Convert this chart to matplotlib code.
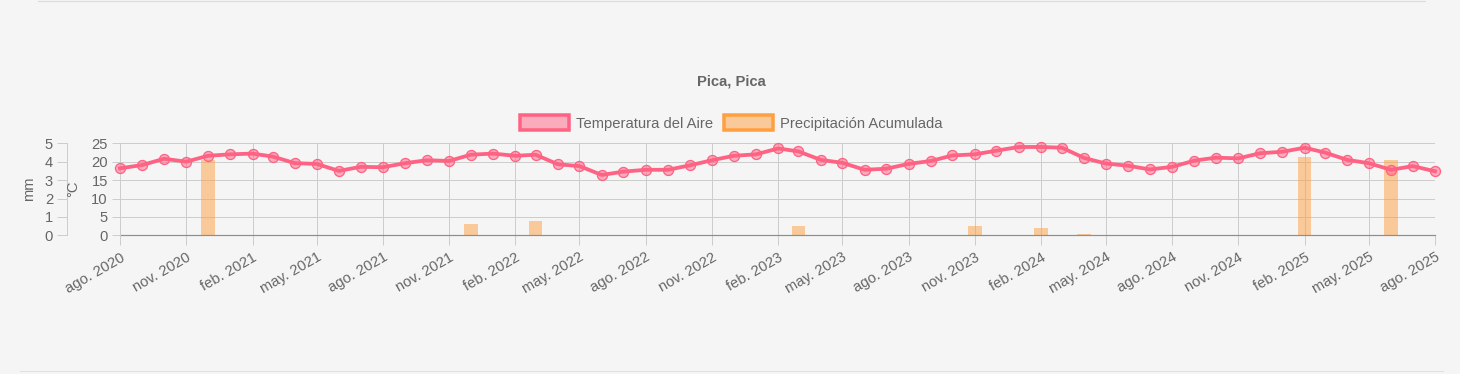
import matplotlib
matplotlib.use("Agg")
import matplotlib.pyplot as plt
from matplotlib.patches import Patch
from matplotlib.lines import Line2D
import pandas as pd

plt.rcParams['font.family'] = ['Liberation Sans', 'DejaVu Sans']

# monthly data, ago. 2020 -> ago. 2025
months = pd.date_range('2020-08-01', '2025-08-01', freq='MS')

temperatura = [
    18.2, 19.1, 20.8, 20.0, 21.6,                                        # 2020
    22.0, 22.2, 21.4, 19.6, 19.4, 17.5, 18.6, 18.5, 19.6, 20.4, 20.2, 21.9,  # 2021
    22.2, 21.6, 21.9, 19.3, 18.8, 16.4, 17.3, 17.8, 17.8, 19.0, 20.4, 21.6,  # 2022
    22.0, 23.6, 22.8, 20.5, 19.7, 17.8, 18.1, 19.4, 20.2, 21.7, 22.0, 23.0,  # 2023
    24.0, 24.0, 23.8, 21.0, 19.5, 18.9, 17.9, 18.6, 20.3, 21.1, 20.9, 22.3,  # 2024
    22.7, 23.8, 22.5, 20.5, 19.6, 17.8, 18.8, 17.4,                      # 2025
]

precipitacion = [
    0, 0, 0, 0, 4.08,
    0, 0, 0, 0, 0, 0, 0, 0, 0, 0, 0, 0.60,
    0, 0, 0.80, 0, 0, 0, 0, 0, 0, 0, 0, 0,
    0, 0, 0.49, 0, 0, 0, 0, 0, 0, 0, 0.49, 0,
    0, 0.40, 0, 0.09, 0, 0, 0, 0, 0, 0, 0, 0,
    0, 4.26, 0, 0, 0, 4.08, 0, 0,
]

tick_labels = ['ago. 2020', 'nov. 2020', 'feb. 2021', 'may. 2021', 'ago. 2021',
               'nov. 2021', 'feb. 2022', 'may. 2022', 'ago. 2022', 'nov. 2022',
               'feb. 2023', 'may. 2023', 'ago. 2023', 'nov. 2023', 'feb. 2024',
               'may. 2024', 'ago. 2024', 'nov. 2024', 'feb. 2025', 'may. 2025',
               'ago. 2025']

W, H = 1460, 374
bg = '#f5f5f5'
grid_c = '#cdcdcd'
txt_c = '#666666'
red = (1, 99 / 255, 132 / 255)
orange = (1, 159 / 255, 64 / 255)
fs = 10.6
px = 0.72  # points per pixel at dpi 100

fig = plt.figure(figsize=(W / 100, H / 100), dpi=100, facecolor=bg)

# bars (mm) on the base axes
ax = fig.add_axes([120 / W, 1 - 235.3 / H, 1315 / W, 92 / H])
ax.set_facecolor(bg)
ax.bar(months, precipitacion, width=19, color=orange + (0.5,), zorder=2)
ax.set_ylim(0, 5)
ax.set_yticks(range(6))
ax.set_xlim(months[0], months[-1])
ax.set_xticks(months[::3])
ax.set_xticklabels(tick_labels, rotation=30, ha='right', va='top',
                   rotation_mode='anchor')
ax.grid(True, color=grid_c, lw=1.0 * px)
ax.set_axisbelow(True)
for s in ['top', 'right']:
    ax.spines[s].set_visible(False)
ax.spines['left'].set_position(('outward', 53 * px))
ax.spines['left'].set_color(grid_c)
ax.spines['left'].set_linewidth(px)
ax.spines['bottom'].set_color('#8e8e8e')
ax.spines['bottom'].set_linewidth(1.2 * px)
ax.tick_params(axis='y', length=10 * px, width=px, color=grid_c,
               labelcolor=txt_c, labelsize=fs, pad=4 * px)
ax.tick_params(axis='x', length=10 * px, width=px, color=grid_c,
               labelcolor=txt_c, labelsize=fs, pad=5 * px)

# temperature line on the twin axes, ticks on the left
ax_t = ax.twinx()
ax_t.yaxis.tick_left()
ax_t.set_ylim(0, 25)
ax_t.set_yticks(range(0, 30, 5))
for s in ['top', 'right', 'bottom']:
    ax_t.spines[s].set_visible(False)
ax_t.spines['left'].set_color(grid_c)
ax_t.spines['left'].set_linewidth(px)
ax_t.tick_params(axis='y', length=8 * px, width=px, color=grid_c,
                 labelcolor=txt_c, labelsize=fs, pad=4 * px)
ax_t.plot(months, temperatura, color=red, lw=3.8 * px, marker='o',
          ms=10 * px, mfc=red + (0.5,), mec=red, mew=1.3 * px,
          clip_on=False, zorder=3)

fig.text(29 / W, 1 - 189 / H, 'mm', rotation=90, ha='center', va='center',
         color=txt_c, fontsize=fs)
fig.text(73 / W, 1 - 189 / H, '°C', rotation=90, ha='center', va='center',
         color=txt_c, fontsize=fs)

fig.text(731 / W, 1 - 81 / H, 'Pica, Pica', ha='center', va='center',
         color=txt_c, fontsize=fs, fontweight='bold')

handles = [Patch(facecolor=red + (0.5,), edgecolor=red, lw=3.5 * px),
           Patch(facecolor=orange + (0.5,), edgecolor=orange, lw=3.5 * px)]
fig.legend(handles, ['Temperatura del Aire', 'Precipitación Acumulada'],
           loc='center', bbox_to_anchor=(731.5 / W, 1 - 123 / H), ncol=2,
           frameon=False, fontsize=fs, labelcolor=txt_c,
           handlelength=3.3, handleheight=1.1, handletextpad=0.5,
           columnspacing=0.75, borderpad=0)

# faint page borders around the chart area
fig.add_artist(Line2D([38 / W, 1425 / W], [1 - 1 / H, 1 - 1 / H],
                      color='#dcdcdc', lw=1.2 * px))
fig.add_artist(Line2D([20 / W, 1443 / W], [1 - 371 / H, 1 - 371 / H],
                      color='#e0e0e0', lw=px))

fig.savefig('out.png', dpi=100, facecolor=bg)
